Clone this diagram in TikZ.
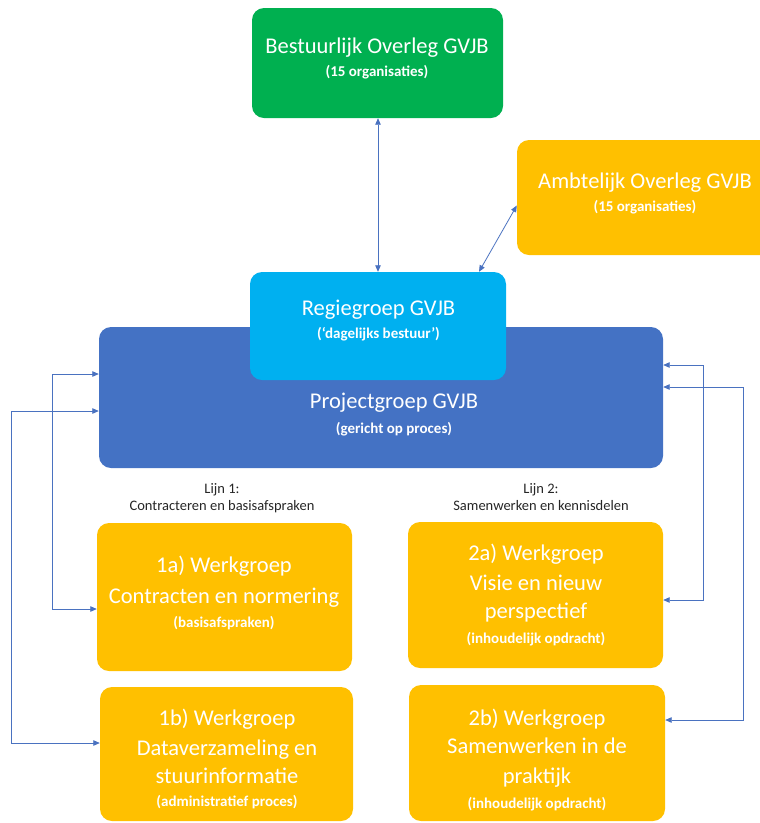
\documentclass[tikz,border=0pt]{standalone}
\usepackage{fontspec}
\setmainfont{Carlito}
\usetikzlibrary{arrows.meta}
\definecolor{cgreen}{HTML}{00B050}
\definecolor{cyellow}{HTML}{FFC000}
\definecolor{ccyan}{HTML}{00B0F0}
\definecolor{cblue}{HTML}{4472C4}
\definecolor{cline}{HTML}{4A72C0}
\tikzset{
  box/.style={rounded corners=12pt, draw=none, inner sep=0pt},
  ttl/.style={text=white, font=\fontsize{22.5}{26}\selectfont, inner sep=0pt, text height=15.5pt, text depth=4.5pt},
  sub/.style={text=white, font=\fontsize{15}{17}\selectfont\bfseries, inner sep=0pt, text height=10.5pt, text depth=3pt},
  lbl/.style={text=black!85, font=\fontsize{14.5}{17}\selectfont, inner sep=0pt, text height=10.5pt, text depth=3pt},
  arr/.style={draw=cline, line width=0.8pt, {Triangle[length=6.5pt,width=5.5pt]}-{Triangle[length=6.5pt,width=5.5pt]}}
}
\begin{document}
\begin{tikzpicture}[x=1pt,y=-1pt]
\useasboundingbox (0,0) rectangle (760,823);
% boxes
\node[box, fill=cgreen, minimum width=251pt, minimum height=110pt] (green) at (377.5,63) {};
\node[box, fill=cyellow, minimum width=263pt, minimum height=115pt] (amb) at (648.5,197.5) {};
\node[box, fill=cblue, minimum width=564pt, minimum height=141pt] (proj) at (381,397.5) {};
\node[box, fill=ccyan, minimum width=256pt, minimum height=108pt] (regie) at (378,326) {};
\node[box, fill=cyellow, minimum width=255pt, minimum height=148pt] (w1a) at (224.5,597) {};
\node[box, fill=cyellow, minimum width=253pt, minimum height=134pt] (w1b) at (226.5,754) {};
\node[box, fill=cyellow, minimum width=255pt, minimum height=146pt] (w2a) at (535.5,595) {};
\node[box, fill=cyellow, minimum width=256pt, minimum height=136pt] (w2b) at (537,753) {};
% texts
\node[ttl] (gt) at (377,48) {Bestuurlijk Overleg GVJB};
\node[sub] (gs) at (377,73) {(15 organisaties)};
\node[ttl] (at) at (645,183) {Ambtelijk Overleg GVJB};
\node[sub] (as) at (645,208) {(15 organisaties)};
\node[ttl] (rt) at (378.5,310) {Regiegroep GVJB};
\node[sub] (rs) at (378.5,335) {(‘dagelijks bestuur’)};
\node[ttl] (pt) at (394,403) {Projectgroep GVJB};
\node[sub] (ps) at (394,430) {(gericht op proces)};
\node[lbl] (l1a) at (222,490) {Lijn 1:};
\node[lbl] (l1b) at (222,507) {Contracteren en basisafspraken};
\node[lbl] (l2a) at (541,490) {Lijn 2:};
\node[lbl] (l2b) at (541,507) {Samenwerken en kennisdelen};
\node[ttl] (a1) at (224,567) {1a) Werkgroep};
\node[ttl] (a2) at (224,598) {Contracten en normering};
\node[sub] (a3) at (224,624) {(basisafspraken)};
\node[ttl] (b1) at (227,720) {1b) Werkgroep};
\node[ttl] (b2) at (227,750) {Dataverzameling en};
\node[ttl] (b3) at (227,778) {stuurinformatie};
\node[sub] (b4) at (227,803) {(administratief proces)};
\node[ttl] (c1) at (536,555) {2a) Werkgroep};
\node[ttl] (c2) at (536,585) {Visie en nieuw};
\node[ttl] (c3) at (536,613) {perspectief};
\node[sub] (c4) at (536,640) {(inhoudelijk opdracht)};
\node[ttl] (d1) at (537,720) {2b) Werkgroep};
\node[ttl] (d2) at (537,748) {Samenwerken in de};
\node[ttl] (d3) at (537,778) {praktijk};
\node[sub] (d4) at (537,805) {(inhoudelijk opdracht)};
% connectors
\draw[arr] ([xshift=0.5pt]green.south) -- ([xshift=0.5pt]green.south |- regie.north);
\draw[arr] ([yshift=-8pt]amb.west) -- ([xshift=101pt]regie.north);
\draw[arr] ([yshift=23.5pt]proj.west) -- ++(-46,0) |- ([yshift=-12pt]w1a.west);
\draw[arr] ([yshift=-13.5pt]proj.west) -- ++(-87,0) |- ([yshift=11pt]w1b.west);
\draw[arr] ([yshift=32.5pt]proj.east) -- ++(40,0) |- ([yshift=-5pt]w2a.east);
\draw[arr] ([yshift=10.5pt]proj.east) -- ++(80,0) |- ([yshift=33pt]w2b.east);
\end{tikzpicture}
\end{document}
